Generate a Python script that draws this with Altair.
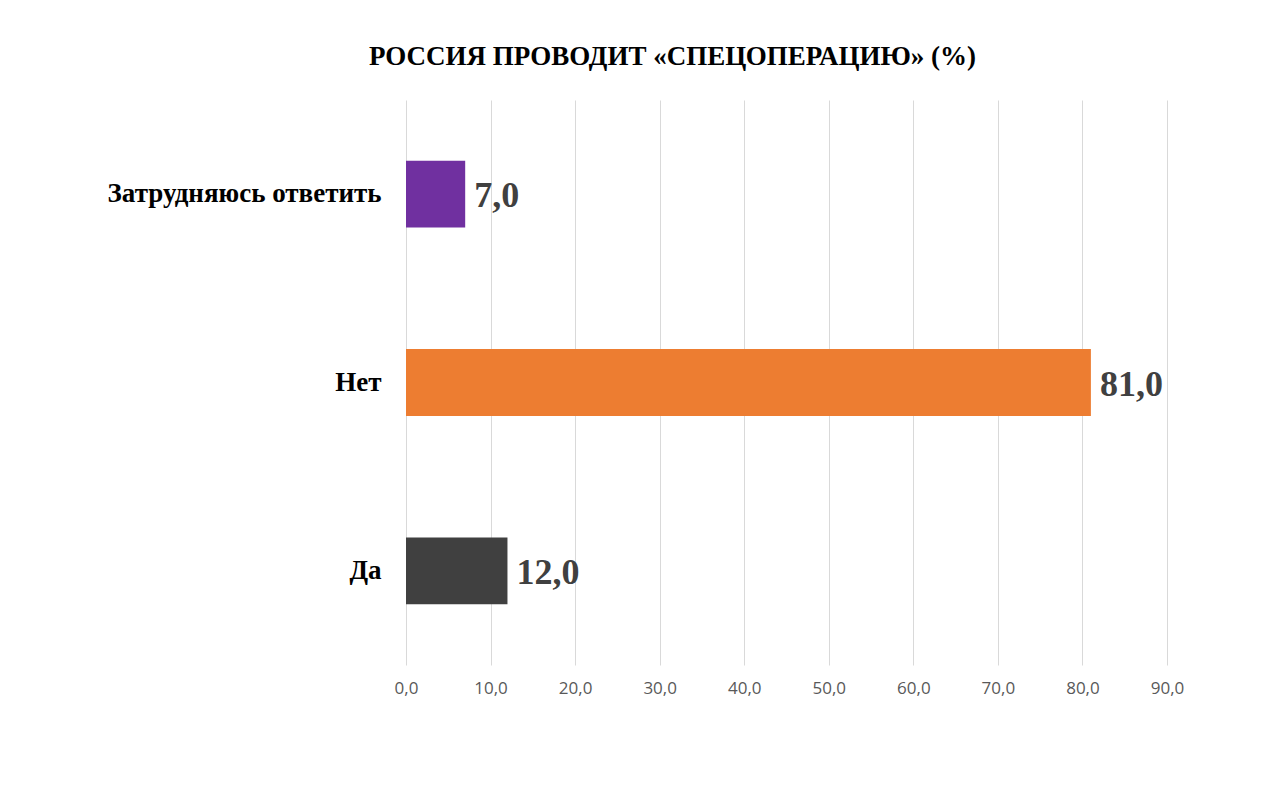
import altair as alt
import pandas as pd

categories = ["Затрудняюсь ответить", "Нет", "Да"]
values = [7.0, 81.0, 12.0]
colors = ["#7030A0", "#ED7D31", "#404040"]
x_ticks = [0, 10, 20, 30, 40, 50, 60, 70, 80, 90]
title_text = "РОССИЯ ПРОВОДИТ «СПЕЦОПЕРАЦИЮ» (%)"

df = pd.DataFrame({"cat": categories, "val": values})

y_enc = alt.Y(
    "cat:N",
    sort=categories,
    scale=alt.Scale(paddingInner=0.645, paddingOuter=0.3225),
    axis=alt.Axis(
        title=None, ticks=False, domain=False, labelPadding=25,
        labelFont="Liberation Serif", labelFontWeight="bold",
        labelFontSize=27, labelColor="#000000", labelLimit=400,
    ),
)
x_enc = alt.X(
    "val:Q",
    scale=alt.Scale(domain=[0, 90], nice=False),
    axis=alt.Axis(
        title=None, values=x_ticks, ticks=False, domain=False,
        labelExpr="replace(format(datum.value, '.1f'), '.', ',')",
        labelFont="Open Sans", labelFontSize=17, labelColor="#595959",
        labelAlign="center", labelFlush=False,
        labelPadding=15, grid=True, gridColor="#D9D9D9", gridWidth=1,
    ),
)

bars = alt.Chart(df).mark_bar().encode(
    x=x_enc,
    y=y_enc,
    color=alt.Color("cat:N", scale=alt.Scale(domain=categories, range=colors), legend=None),
)

labels = alt.Chart(df).transform_calculate(
    lab="replace(format(datum.val, '.1f'), '.', ',')"
).mark_text(
    align="left", baseline="middle", dx=9, dy=2,
    font="Liberation Serif", fontWeight="bold", fontSize=36, color="#404040",
).encode(
    x=alt.X("val:Q"),
    y=alt.Y("cat:N", sort=categories),
    text="lab:N",
)

chart = alt.layer(bars, labels).properties(
    width=761,
    height=565,
    title=alt.TitleParams(
        title_text, font="Liberation Serif", fontWeight="bold", fontSize=27,
        color="#000000", anchor="middle", dx=-114, offset=29,
    ),
    autosize=alt.AutoSizeParams(type="none"),
    padding={"left": 398, "top": 92, "right": 100, "bottom": 120},
    background="#FFFFFF",
).configure_view(stroke=None)

chart.save("out.html", embed_options={"renderer": "svg", "actions": False})
